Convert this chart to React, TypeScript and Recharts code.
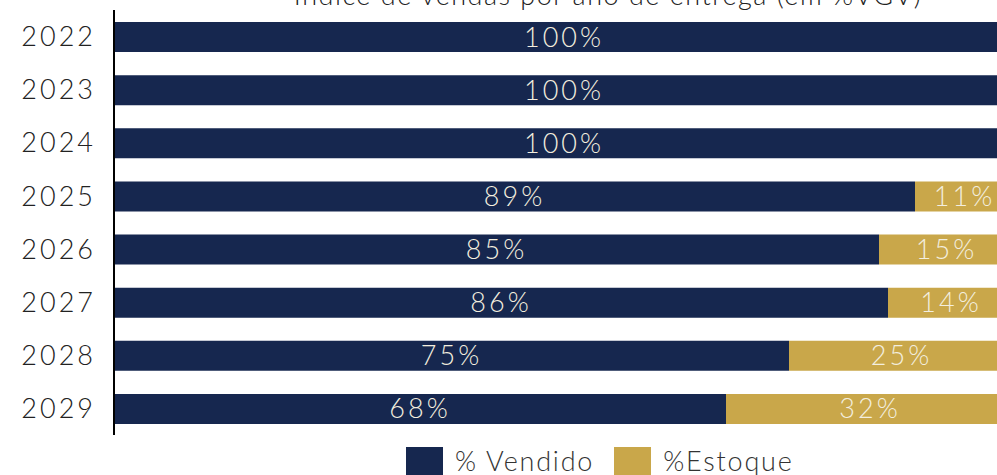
import React from "react";
import { BarChart, Bar, XAxis, YAxis, LabelList } from "recharts";

const years = ["2022", "2023", "2024", "2025", "2026", "2027", "2028", "2029"];
const vendido = [100, 100, 100, 89, 85, 86, 75, 68];
const estoque = [0, 0, 0, 11, 15, 14, 25, 32];

const data = years.map((y, i) => ({ year: y, vendido: vendido[i], estoque: estoque[i] === 0 ? null : estoque[i] }));

const NAVY = "#16274f";
const GOLD = "#c9a74a";
const FONT = "Lato, 'Open Sans', sans-serif";

export default function App() {
  return (
    <div style={{ position: "absolute", left: 0, top: 0, width: 997, height: 475, overflow: "hidden", background: "#fff" }}>
      <div style={{ position: "absolute", top: -22, left: 0, width: 1216, textAlign: "center", fontFamily: FONT, fontWeight: 300, fontSize: 27, letterSpacing: 1.5, color: "#222", whiteSpace: "nowrap" }}>
        Índice de vendas por ano de entrega (em %VGV)
      </div>
      <BarChart width={1014} height={475} data={data} layout="vertical" margin={{ top: 10, right: 0, bottom: 40, left: 0 }} barSize={30}>
        <XAxis type="number" domain={[0, 100]} hide />
        <YAxis
          type="category"
          dataKey="year"
          width={114}
          axisLine={{ stroke: "#000", strokeWidth: 2 }}
          tickLine={false}
          tick={{ fill: "#222", fontSize: 27, fontFamily: FONT, fontWeight: 300, letterSpacing: 3 }}
          tickMargin={12}
        />
        <Bar dataKey="vendido" stackId="a" fill={NAVY} isAnimationActive={false}>
          <LabelList dataKey="vendido" position="center" formatter={(v: any) => `${v}%`} fill="#f3eedf" fontSize={27} fontFamily={FONT} fontWeight={300} letterSpacing={3} />
        </Bar>
        <Bar dataKey="estoque" stackId="a" fill={GOLD} isAnimationActive={false}>
          <LabelList dataKey="estoque" position="center" formatter={(v: any) => (v == null ? "" : `${v}%`)} fill="#f3eedf" fontSize={27} fontFamily={FONT} fontWeight={300} letterSpacing={3} />
        </Bar>
      </BarChart>
      <div style={{ position: "absolute", left: 406, top: 447, display: "flex", fontFamily: FONT, fontWeight: 300, fontSize: 27, letterSpacing: 1.8, color: "#333", lineHeight: "28px" }}>
        <div style={{ display: "flex", alignItems: "center" }}>
          <div style={{ width: 37, height: 28, background: NAVY, marginRight: 12 }} />
          <span>% Vendido</span>
        </div>
        <div style={{ display: "flex", alignItems: "center", marginLeft: 20 }}>
          <div style={{ width: 37, height: 28, background: GOLD, marginRight: 12 }} />
          <span>%Estoque</span>
        </div>
      </div>
    </div>
  );
}
